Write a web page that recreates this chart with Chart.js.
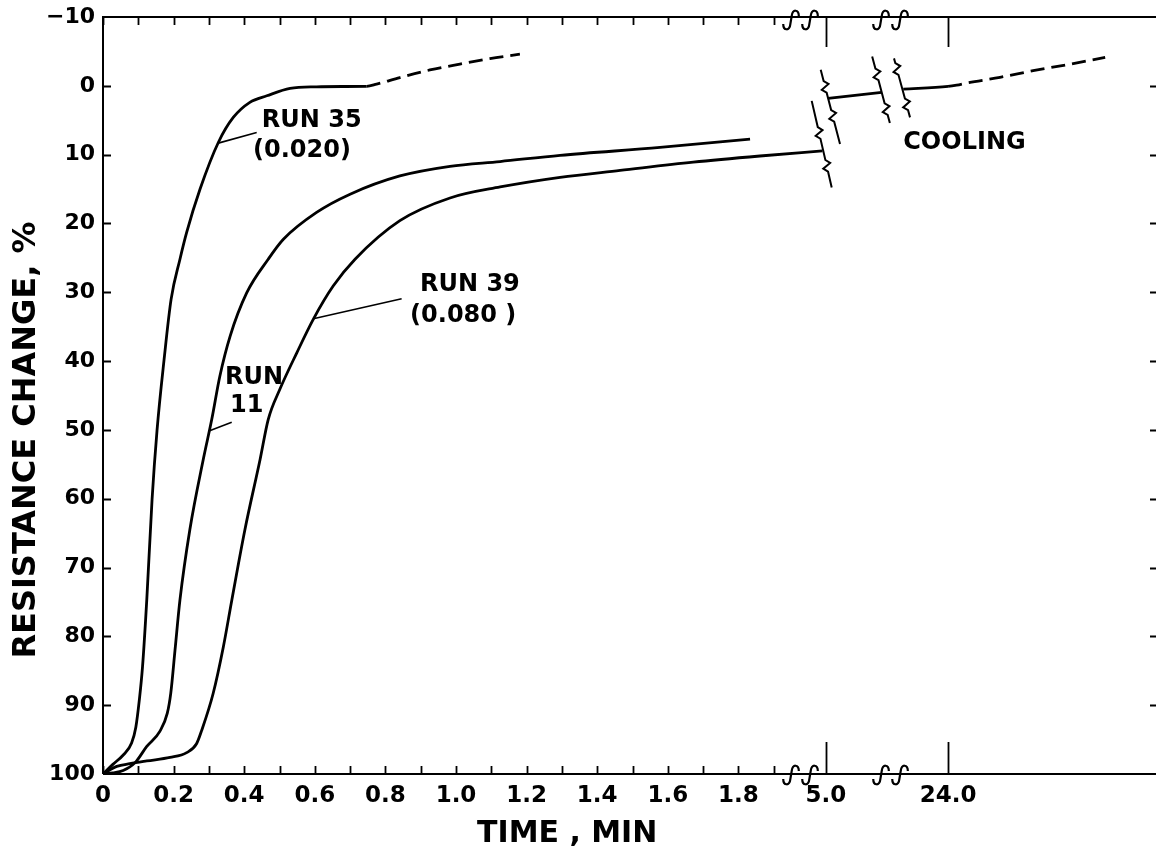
<!DOCTYPE html>
<html><head><meta charset="utf-8">
<script src="https://cdn.jsdelivr.net/npm/chart.js@4"></script>
<style>html,body{margin:0;padding:0;background:#fff;}canvas{display:block;}</style>
</head><body>
<canvas id="c" width="1156" height="851"></canvas>
<script>
// ---------- data (time in minutes, resistance change in %) ----------
const run35Time  = [0, 0.028, 0.058, 0.081, 0.093, 0.103, 0.112, 0.124, 0.139, 0.153, 0.173, 0.193, 0.218, 0.237, 0.275, 0.327, 0.369, 0.416, 0.464, 0.530, 0.605, 0.680, 0.747, 0.775, 0.841, 0.926, 1.011, 1.096, 1.181];
const run35Value = [100, 98.6, 97.2, 95.5, 93.2, 89.2, 84.4, 74.7, 60.1, 50.1, 39.8, 31.0, 25.2, 21.3, 15.0, 8.2, 4.6, 2.4, 1.45, 0.37, 0.14, 0.10, 0.08, -0.25, -1.2, -2.3, -3.16, -3.96, -4.6];
const run35DashFrom = 22;

const run11Time  = [0, 0.028, 0.057, 0.091, 0.124, 0.161, 0.182, 0.192, 0.204, 0.218, 0.246, 0.284, 0.308, 0.331, 0.360, 0.407, 0.468, 0.511, 0.605, 0.700, 0.841, 0.983, 1.125, 1.295, 1.578, 1.833];
const run11Value = [100, 99.85, 99.5, 98.35, 96.0, 93.8, 91.2, 88.25, 82.0, 74.7, 64.5, 54.3, 48.5, 42.2, 36.4, 30.1, 25.2, 22.3, 18.4, 15.75, 13.1, 11.7, 11.0, 10.1, 8.96, 7.75];

const run39Time  = [0, 0.039, 0.076, 0.124, 0.190, 0.237, 0.265, 0.280, 0.312, 0.341, 0.365, 0.402, 0.445, 0.468, 0.501, 0.549, 0.596, 0.652, 0.714, 0.841, 0.983, 1.125, 1.295, 1.465, 1.672, 1.861, 4.99];
const run39Value = [100, 98.9, 98.5, 98.1, 97.6, 96.9, 95.6, 93.6, 88.3, 81.5, 74.7, 64.5, 54.3, 48.5, 44.1, 38.8, 33.9, 29.1, 25.2, 19.6, 16.3, 14.7, 13.3, 12.3, 11.1, 10.2, 9.45];

const cool1Time  = [5.006, 5.158];
const cool1Value = [1.83, 0.96];
const cool2Time  = [21.46, 24.0, 24.49, 25.05, 26.94, 28.82, 30.72, 32.9];
const cool2Value = [0.48, 0.09, -0.1, -0.4, -1.23, -2.19, -3.06, -4.14];
const cool2DashFrom = 1;

const xTickTimes  = [0,0.1,0.2,0.3,0.4,0.5,0.6,0.7,0.8,0.9,1.0,1.1,1.2,1.3,1.4,1.5,1.6,1.7,1.8,1.9,5.0,24.0];
const xTickLabels = ['0','','0.2','','0.4','','0.6','','0.8','','1.0','','1.2','','1.4','','1.6','','1.8','','5.0','24.0'];
const yMin = -10, yMax = 100, yStep = 10;

// text annotations: [text, time, value]
const labelTexts = [
  ['RUN 35', 0.450, 6.0], ['(0.020)', 0.425, 10.37],
  ['RUN 39', 0.898, 29.87], ['(0.080 )', 0.870, 34.38],
  ['RUN', 0.3456, 43.4], ['11', 0.360, 47.47],
  ['COOLING', 21.46, 9.2]
];
// leader lines: [t0, v0, t1, v1]
const leaders = [
  [0.3266, 8.33, 0.4354, 6.78],
  [0.5958, 33.84, 0.846, 30.93],
  [0.2983, 50.19, 0.3646, 48.88]
];
// curve break symbols: [time, value, halfDx(px), halfDy(px), zigzag fractions]
const curveBreaks = [
  [4.988, 8.48, 10, 43.3, [0.37, 0.75]],
  [5.0125, 3.07, 9.65, 37.15, [0.23, 0.62]],
  [5.156, 0.57, 8.85, 33.35, [0.27, 0.79]],
  [21.39, 0.30, 8, 29.5, [0.18, 0.78]]
];

// ---------- broken time axis ----------
const U5 = 2.048, U24 = 2.394, U_MAX = 2.983;
const axisBreakU = [1.976, 2.231];
function tx(t){ if (t <= 2.5) return t; if (t < 15) return U5 + (t - 5.0); return U24 + (t - 24.0) * 0.05; }
const pts = (T, V) => T.map((t, i) => ({x: tx(t), y: V[i]}));

const FONT = "'DejaVu Sans', sans-serif";

const deco = {
  id: 'deco',
  afterDraw(chart){
    const {ctx, chartArea: a, scales: {x, y}} = chart;
    ctx.save();
    ctx.strokeStyle = '#000'; ctx.fillStyle = '#000';
    ctx.lineWidth = 2;
    // frame
    ctx.beginPath();
    ctx.moveTo(a.left, a.bottom); ctx.lineTo(a.left, a.top); ctx.lineTo(a.right + 2, a.top);
    ctx.moveTo(a.left, a.bottom); ctx.lineTo(a.right + 2, a.bottom);
    ctx.stroke();
    // x ticks (inward) bottom & top
    ctx.lineWidth = 1.8;
    x.ticks.forEach((tk, i) => {
      const px = Math.round(x.getPixelForValue(tk.value)) + 0.5;
      const long = xTickTimes[i] >= 5;
      ctx.beginPath();
      ctx.moveTo(px, a.bottom); ctx.lineTo(px, a.bottom - (long ? 32 : 8));
      ctx.moveTo(px, a.top); ctx.lineTo(px, a.top + (long ? 30 : 8));
      ctx.stroke();
    });
    // y ticks (inward) left & right
    y.ticks.forEach(tk => {
      if (tk.value === yMin || tk.value === yMax) return;
      const py = Math.round(y.getPixelForValue(tk.value)) + 0.5;
      ctx.beginPath();
      ctx.moveTo(a.left, py); ctx.lineTo(a.left + 8, py);
      ctx.moveTo(a.right, py); ctx.lineTo(a.right - 6, py);
      ctx.stroke();
    });
    // axis break "integral" marks
    function drawS(cx, cy){
      const k = 1.3;
      ctx.beginPath();
      ctx.moveTo(cx - 6*k, cy + 3*k);
      ctx.bezierCurveTo(cx - 6*k, cy + 8*k, cx - 1*k, cy + 9*k, cx - 0.5*k, cy + 3*k);
      ctx.lineTo(cx + 0.5*k, cy - 3*k);
      ctx.bezierCurveTo(cx + 1*k, cy - 9*k, cx + 6*k, cy - 8*k, cx + 6*k, cy - 3*k);
      ctx.stroke();
    }
    ctx.lineWidth = 2.2;
    axisBreakU.forEach(u => {
      const cx = x.getPixelForValue(u);
      [a.top + 3, a.bottom + 1].forEach(cy => { drawS(cx - 9.5, cy); drawS(cx + 9.5, cy); });
    });
    // curve break symbols
    ctx.lineWidth = 2;
    curveBreaks.forEach(([t, v, hx, hy, fr]) => {
      const cx = x.getPixelForValue(tx(t)), cy = y.getPixelForValue(v);
      const x0 = cx - hx, y0 = cy - hy, L = 2 * Math.hypot(hx, hy);
      const dx = 2 * hx / L, dy = 2 * hy / L, nx = dy, ny = -dx;
      const P = f => [x0 + 2 * hx * f, y0 + 2 * hy * f];
      ctx.beginPath(); ctx.moveTo(x0, y0);
      fr.forEach(f => {
        const [px, py] = P(f);
        ctx.lineTo(px - dx * 6, py - dy * 6);
        ctx.lineTo(px - dx * 2 + nx * 4, py - dy * 2 + ny * 4);
        ctx.lineTo(px + dx * 2 - nx * 4, py + dy * 2 - ny * 4);
        ctx.lineTo(px + dx * 6, py + dy * 6);
      });
      ctx.lineTo(cx + hx, cy + hy);
      ctx.stroke();
    });
    // leader lines
    ctx.lineWidth = 1.6;
    leaders.forEach(([t0, v0, t1, v1]) => {
      ctx.beginPath();
      ctx.moveTo(x.getPixelForValue(tx(t0)), y.getPixelForValue(v0));
      ctx.lineTo(x.getPixelForValue(tx(t1)), y.getPixelForValue(v1));
      ctx.stroke();
    });
    // annotation texts
    ctx.font = "bold 24px " + FONT;
    ctx.textAlign = 'left'; ctx.textBaseline = 'alphabetic';
    labelTexts.forEach(([s, t, v]) => ctx.fillText(s, x.getPixelForValue(tx(t)), y.getPixelForValue(v)));
    // axis titles
    ctx.font = "bold 30px " + FONT;
    ctx.textAlign = 'center';
    ctx.fillText('TIME , MIN', x.getPixelForValue(1.315), 842);
    ctx.save();
    ctx.translate(35, 440);
    ctx.rotate(-Math.PI / 2);
    ctx.font = "bold 32px " + FONT;
    ctx.fillText('RESISTANCE CHANGE, %', 0, 0);
    ctx.restore();
    ctx.restore();
  }
};

const lineDs = (label, data, dashFrom) => ({
  label, data,
  borderColor: '#000', borderWidth: 2.8, pointRadius: 0, fill: false,
  cubicInterpolationMode: 'monotone',
  segment: { borderDash: ctx => (dashFrom !== undefined && ctx.p0DataIndex >= dashFrom) ? [14, 7] : undefined }
});

new Chart(document.getElementById('c'), {
  type: 'line',
  data: {
    datasets: [
      lineDs('Run 35 (0.020)', pts(run35Time, run35Value), run35DashFrom),
      lineDs('Run 11', pts(run11Time, run11Value)),
      lineDs('Run 39 (0.080)', pts(run39Time, run39Value)),
      lineDs('Cooling', pts(cool1Time, cool1Value)),
      lineDs('Cooling ', pts(cool2Time, cool2Value), cool2DashFrom)
    ]
  },
  options: {
    responsive: false, animation: false, devicePixelRatio: 1,
    layout: { padding: { top: 17, right: 0, bottom: 0, left: 0 } },
    plugins: { legend: { display: false }, tooltip: { enabled: false } },
    scales: {
      x: {
        type: 'linear', min: 0, max: U_MAX,
        afterBuildTicks: s => { s.ticks = xTickTimes.map(t => ({ value: tx(t) })); },
        afterFit: s => { s.height = 77; s.paddingLeft = 0; s.paddingRight = 0; },
        grid: { display: false, drawTicks: false }, border: { display: false },
        ticks: { autoSkip: false, maxRotation: 0, minRotation: 0, padding: 8, color: '#000',
                 font: { family: FONT, size: 23, weight: 'bold' },
                 callback: (v, i) => xTickLabels[i] }
      },
      y: {
        type: 'linear', reverse: true, min: yMin, max: yMax,
        afterFit: s => { s.width = 103; s.paddingTop = 0; s.paddingBottom = 0; },
        grid: { display: false, drawTicks: false }, border: { display: false },
        ticks: { stepSize: yStep, padding: 8, color: '#000',
                 font: { family: FONT, size: 22, weight: 'bold' },
                 callback: v => v < 0 ? '\u2212' + Math.abs(v) : String(v) }
      }
    }
  },
  plugins: [deco]
});
</script>
</body></html>
